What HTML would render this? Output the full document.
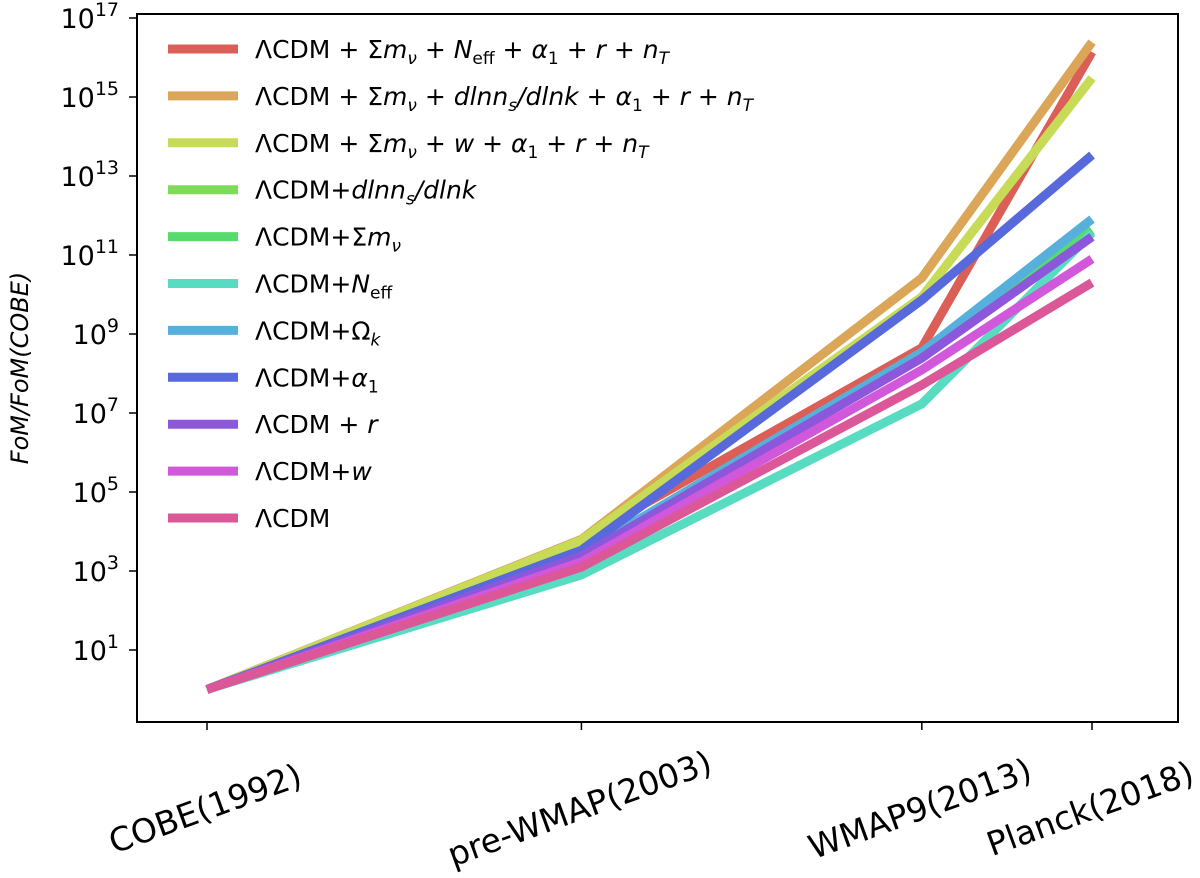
<!DOCTYPE html>
<html><head><meta charset="utf-8"><style>
body{margin:0;background:#fff}
svg text{font-family:"DejaVu Sans","Liberation Sans",sans-serif;fill:#000}
</style></head><body>
<svg id="c" width="1200" height="873" viewBox="0 0 1200 873"></svg>
<script>
const categories=["COBE(1992)","pre-WMAP(2003)","WMAP9(2013)","Planck(2018)"];
const years=[1992,2003,2013,2018];
const seriesNames=[
 "ΛCDM + Σm_ν + N_eff + α_1 + r + n_T",
 "ΛCDM + Σm_ν + dlnn_s/dlnk + α_1 + r + n_T",
 "ΛCDM + Σm_ν + w + α_1 + r + n_T",
 "ΛCDM+dlnn_s/dlnk","ΛCDM+Σm_ν","ΛCDM+N_eff","ΛCDM+Ω_k","ΛCDM+α_1","ΛCDM + r","ΛCDM+w","ΛCDM"];
const colors=["#db5f57","#dba657","#c7db57","#7fdb57","#57db6e","#57dbc1","#57b0db","#5769db","#8c57db","#d157db","#db5797"];
// log10 values
const sRed=[0,3.8,8.65,16.14];
const sOrange=[0,3.8,10.42,16.39];
const sYellow=[0,3.78,9.94,15.48];
const sLime=[0,3.4,8.4,11.6];
const sGreen=[0,3.4,8.45,11.63];
const sTeal=[0,2.9,7.23,11.56];
const sLightBlue=[0,3.45,8.54,11.91];
const sBlue=[0,3.53,9.86,13.53];
const sPurple=[0,3.38,8.39,11.46];
const sMagenta=[0,3.23,8.09,10.9];
const sPink=[0,3.1,7.71,10.3];
const allSeries=[sRed,sOrange,sYellow,sLime,sGreen,sTeal,sLightBlue,sBlue,sPurple,sMagenta,sPink];
const yTicks=[1,3,5,7,9,11,13,15,17];

const NS="http://www.w3.org/2000/svg";
const svg=document.getElementById('c');
const L=137,R=1178,T=14,B=722;
const xS=y=>207+(y-1992)*(885/26);
const yS=v=>689.5-v*39.5;
function el(t,a,p){const e=document.createElementNS(NS,t);for(const k in a)e.setAttribute(k,a[k]);(p||svg).appendChild(e);return e;}
allSeries.forEach((s,i)=>{
 const p=el('polyline',{points:s.map((v,j)=>xS(years[j])+','+yS(v)).join(' '),fill:'none',stroke:colors[i],'stroke-width':9});
 
 
});
const fr=el('rect',{x:L,y:T,width:R-L,height:B-T,fill:'none',stroke:'#000','stroke-width':2});


yTicks.forEach(t=>{
 const y=yS(t);
 el('line',{x1:L-8,x2:L,y1:y,y2:y,stroke:'#000','stroke-width':1.5});
 const tx=el('text',{x:L-18,y:y+10,'text-anchor':'end','font-size':27});
 tx.innerHTML='10<tspan dy="-12" font-size="19">'+t+'</tspan>';
 
 
});
categories.forEach((c,j)=>{
 const x=xS(years[j]);
 el('line',{x1:x,x2:x,y1:B,y2:B+8,stroke:'#000','stroke-width':1.5});
 const cy=808;
 const tx=el('text',{x:x-2,y:cy+12,'text-anchor':'middle','font-size':33,transform:`rotate(-20 ${x-2} ${cy})`});
 tx.textContent=c;
 
 
});
const yt=el('text',{x:28,y:368,'text-anchor':'middle','font-size':24,'font-style':'italic',transform:'rotate(-90 28 368)'});
yt.textContent='FoM/FoM(COBE)';


const legendHTML=[
 'ΛCDM + Σ<tspan font-style="italic">m</tspan><tspan font-style="italic" font-size="17" dy="6">ν</tspan><tspan dy="-6"> + </tspan><tspan font-style="italic">N</tspan><tspan font-size="17" dy="6">eff</tspan><tspan dy="-6"> + </tspan><tspan font-style="italic">α</tspan><tspan font-size="17" dy="6">1</tspan><tspan dy="-6"> + </tspan><tspan font-style="italic">r</tspan> + <tspan font-style="italic">n</tspan><tspan font-style="italic" font-size="17" dy="6">T</tspan>',
 'ΛCDM + Σ<tspan font-style="italic">m</tspan><tspan font-style="italic" font-size="17" dy="6">ν</tspan><tspan dy="-6"> + </tspan><tspan font-style="italic">dlnn</tspan><tspan font-style="italic" font-size="17" dy="6">s</tspan><tspan dy="-6" font-style="italic">/dlnk</tspan> + <tspan font-style="italic">α</tspan><tspan font-size="17" dy="6">1</tspan><tspan dy="-6"> + </tspan><tspan font-style="italic">r</tspan> + <tspan font-style="italic">n</tspan><tspan font-style="italic" font-size="17" dy="6">T</tspan>',
 'ΛCDM + Σ<tspan font-style="italic">m</tspan><tspan font-style="italic" font-size="17" dy="6">ν</tspan><tspan dy="-6"> + </tspan><tspan font-style="italic">w</tspan> + <tspan font-style="italic">α</tspan><tspan font-size="17" dy="6">1</tspan><tspan dy="-6"> + </tspan><tspan font-style="italic">r</tspan> + <tspan font-style="italic">n</tspan><tspan font-style="italic" font-size="17" dy="6">T</tspan>',
 'ΛCDM+<tspan font-style="italic">dlnn</tspan><tspan font-style="italic" font-size="17" dy="6">s</tspan><tspan dy="-6" font-style="italic">/dlnk</tspan>',
 'ΛCDM+Σ<tspan font-style="italic">m</tspan><tspan font-style="italic" font-size="17" dy="6">ν</tspan>',
 'ΛCDM+<tspan font-style="italic">N</tspan><tspan font-size="17" dy="6">eff</tspan>',
 'ΛCDM+Ω<tspan font-style="italic" font-size="17" dy="6">k</tspan>',
 'ΛCDM+<tspan font-style="italic">α</tspan><tspan font-size="17" dy="6">1</tspan>',
 'ΛCDM + <tspan font-style="italic">r</tspan>',
 'ΛCDM+<tspan font-style="italic">w</tspan>',
 'ΛCDM'];
legendHTML.forEach((h,i)=>{
 const y=49+i*46.9;
 const g=el('g',{});
 
 
 el('line',{x1:168,x2:238,y1:y,y2:y,stroke:colors[i],'stroke-width':9},g);
 const t=el('text',{x:255,y:y+9,'font-size':25},g);
 t.innerHTML=h;
});
</script>
</body></html>
